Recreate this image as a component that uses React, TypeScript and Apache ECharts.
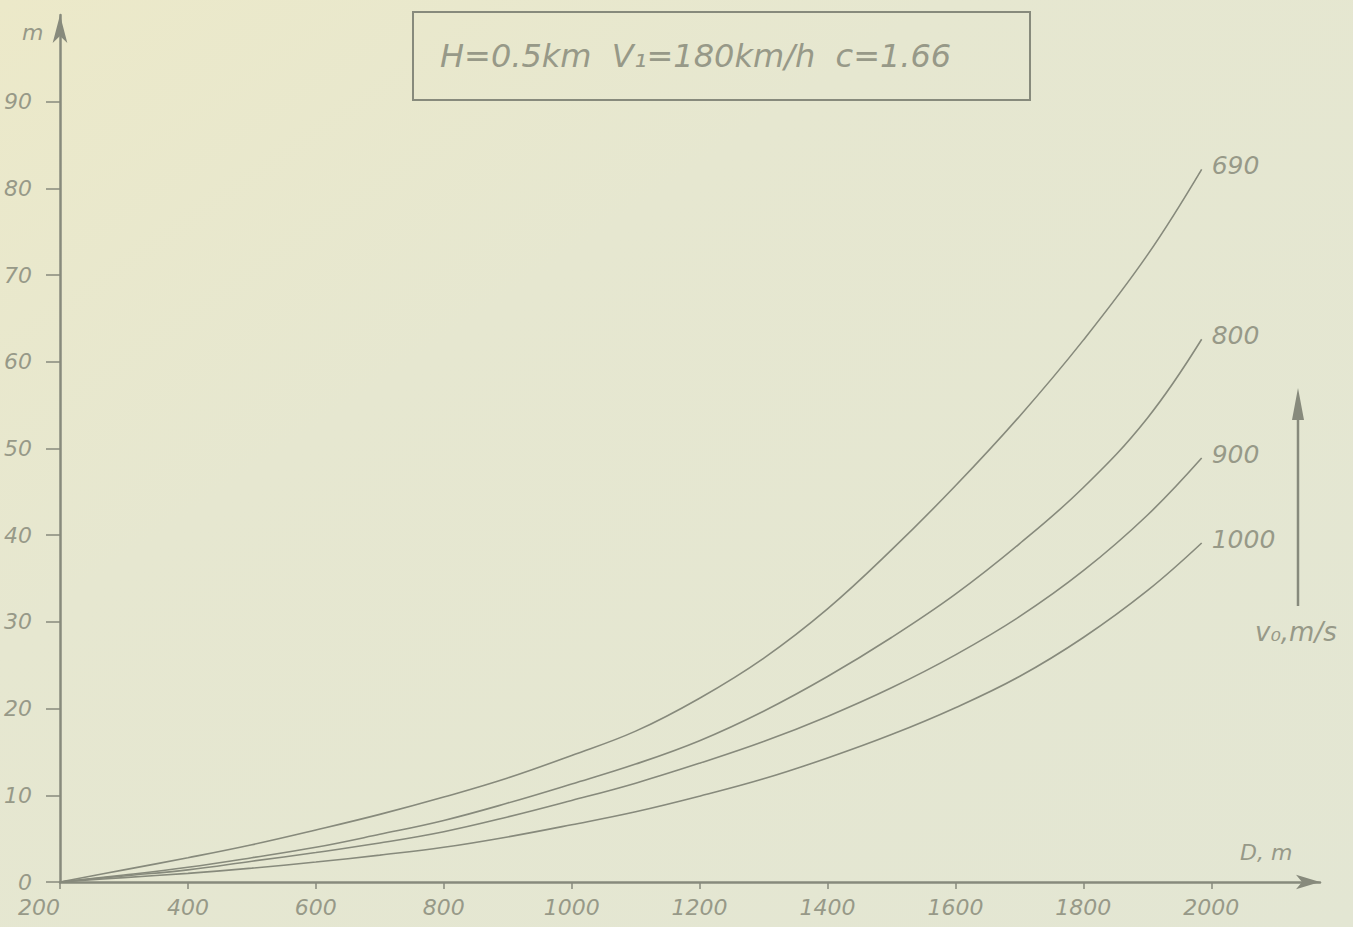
import React, { useEffect, useRef } from "react";
import * as echarts from "echarts";

// Distance D, m (x) at which values were read
const distances = [200, 300, 400, 500, 600, 700, 800, 900, 1000, 1100, 1200, 1300, 1400, 1500, 1600, 1700, 1800, 1900, 1985];
// Height, m for each muzzle velocity v0, m/s
const h690 = [0, 1.4, 2.8, 4.3, 6.0, 7.8, 9.8, 12.0, 14.6, 17.4, 21.2, 25.8, 31.5, 38.3, 45.7, 53.7, 62.5, 72.3, 82.2];
const h800 = [0, 0.8, 1.7, 2.8, 4.0, 5.5, 7.1, 9.1, 11.3, 13.6, 16.3, 19.7, 23.7, 28.2, 33.2, 39.0, 45.5, 53.5, 62.6];
const h900 = [0, 0.7, 1.4, 2.4, 3.4, 4.5, 5.8, 7.5, 9.4, 11.4, 13.7, 16.2, 19.1, 22.4, 26.2, 30.6, 35.9, 42.3, 48.9];
const h1000 = [0, 0.5, 1.0, 1.6, 2.3, 3.1, 4.0, 5.2, 6.6, 8.1, 9.9, 11.9, 14.3, 17.0, 20.1, 23.7, 28.2, 33.6, 39.1];
const seriesNames = ["690", "800", "900", "1000"];
const xTicks = [200, 400, 600, 800, 1000, 1200, 1400, 1600, 1800, 2000];
const yTicks = [0, 10, 20, 30, 40, 50, 60, 70, 80, 90];
const titleText = "H=0.5km  V\u2081=180km/h  c=1.66";
const xName = "D, m";
const yName = "m";
const legendName = "v\u2080,m/s";

const INK = "#878a7c";
const TEXT = "#979988";

export default function App() {
  const ref = useRef<HTMLDivElement>(null);
  useEffect(() => {
    if (!ref.current) return;
    const chart = echarts.init(ref.current, undefined, { renderer: "svg" });
    const all = [h690, h800, h900, h1000];
    chart.setOption({
      animation: false,
      backgroundColor: {
        type: "linear",
        x: 0,
        y: 0,
        x2: 1,
        y2: 1,
        colorStops: [
          { offset: 0, color: "#ece9c9" },
          { offset: 0.35, color: "#e6e7d0" },
          { offset: 1, color: "#e3e6d3" },
        ],
      },
      grid: {
        left: 60,
        right: 33,
        top: 15,
        bottom: 45,
        containLabel: false,
        outerBoundsMode: "none",
      },
      xAxis: {
        type: "value",
        min: 200,
        max: 2170,
        interval: 200,
        axisLine: {
          show: true,
          symbol: ["none", "arrow"],
          symbolSize: [11, 24],
          lineStyle: { color: INK, width: 2.5 },
        },
        axisTick: {
          show: true,
          length: 7,
          customValues: xTicks,
          lineStyle: { color: INK, width: 1.5 },
        },
        axisLabel: {
          customValues: xTicks,
          formatter: (v: number) => String(v),
          alignMinLabel: "right",
          margin: 14,
          color: TEXT,
          fontSize: 22,
          fontStyle: "italic",
          fontFamily: "DejaVu Sans",
        },
        splitLine: { show: false },
      },
      yAxis: {
        type: "value",
        min: 0,
        max: 100,
        interval: 10,
        axisLine: {
          show: true,
          symbol: ["none", "arrow"],
          symbolSize: [11, 28],
          lineStyle: { color: INK, width: 2.5 },
        },
        axisTick: {
          show: true,
          length: 14,
          customValues: yTicks,
          lineStyle: { color: INK, width: 1.5 },
        },
        axisLabel: {
          customValues: yTicks,
          formatter: (v: number) => String(v),
          margin: 28,
          color: TEXT,
          fontSize: 22,
          fontStyle: "italic",
          fontFamily: "DejaVu Sans",
          showMinLabel: true,
        },
        splitLine: { show: false },
      },
      series: all.map((vals, i) => ({
        name: seriesNames[i],
        type: "line",
        smooth: 0.4,
        showSymbol: false,
        data: distances.map((d, j) => [d, vals[j]]),
        lineStyle: { color: INK, width: 1.6 },
        endLabel: {
          show: true,
          formatter: "{a}",
          distance: 10,
          offset: [0, -4],
          color: TEXT,
          fontSize: 25,
          fontStyle: "italic",
          fontFamily: "DejaVu Sans",
        },
      })),
      graphic: [
        {
          type: "rect",
          shape: { x: 413, y: 12, width: 617, height: 88 },
          style: { fill: "none", stroke: INK, lineWidth: 2 },
        },
        {
          type: "text",
          x: 440,
          y: 56,
          style: {
            text: titleText,
            fill: TEXT,
            font: "italic 32px 'DejaVu Sans'",
            verticalAlign: "middle",
          },
        },
        {
          type: "line",
          shape: { x1: 1298, y1: 606, x2: 1298, y2: 410 },
          style: { stroke: INK, lineWidth: 2.5 },
        },
        {
          type: "polygon",
          shape: { points: [[1298, 388], [1292, 420], [1304, 420]] },
          style: { fill: INK },
        },
        {
          type: "text",
          x: 1255,
          y: 632,
          style: {
            text: legendName,
            fill: TEXT,
            font: "italic 26px 'DejaVu Sans'",
            verticalAlign: "middle",
          },
        },
        {
          type: "text",
          x: 1240,
          y: 852,
          style: {
            text: xName,
            fill: TEXT,
            font: "italic 22px 'DejaVu Sans'",
            verticalAlign: "middle",
          },
        },
        {
          type: "text",
          x: 22,
          y: 32,
          style: {
            text: yName,
            fill: TEXT,
            font: "italic 22px 'DejaVu Sans'",
            verticalAlign: "middle",
          },
        },
      ],
    });
    return () => chart.dispose();
  }, []);
  return (
    <div
      ref={ref}
      style={{ position: "fixed", left: 0, top: 0, width: 1353, height: 927 }}
    />
  );
}
